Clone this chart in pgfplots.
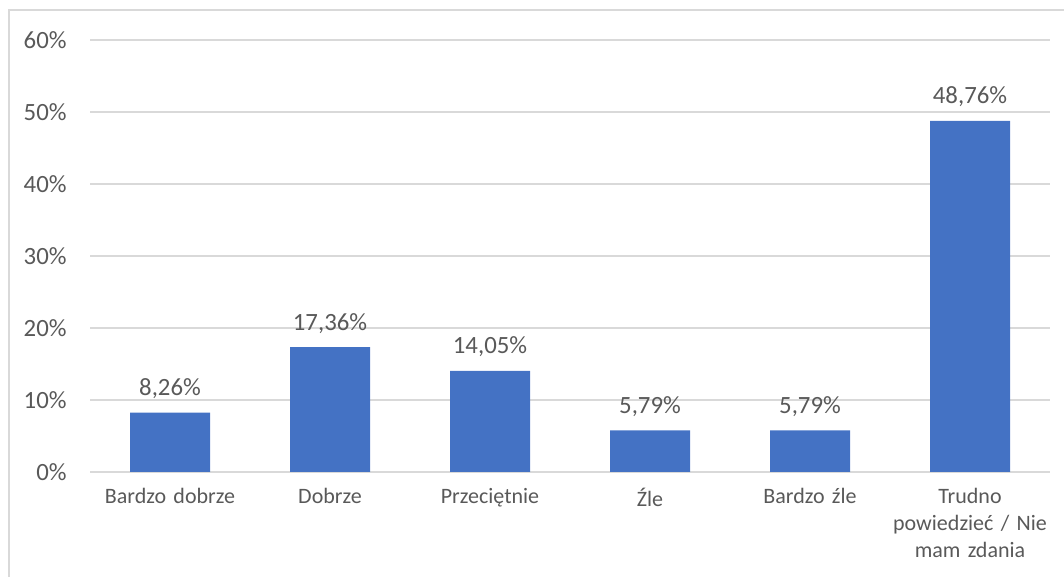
\documentclass[border=0pt]{standalone}
\usepackage{pgfplots}
\pgfplotsset{compat=1.18}
\usepackage{fontspec}
\setmainfont{Carlito}
\definecolor{barblue}{HTML}{4472C4}
\definecolor{txt}{HTML}{595959}
\definecolor{gridc}{HTML}{D9D9D9}
\begin{document}
\begin{tikzpicture}
\path[use as bounding box] (0,0) rectangle (532pt,288.5pt);
\draw[gridc, line width=0.75pt] (4.5pt,0) -- (4.5pt,283.5pt) -- (532pt,283.5pt);
\begin{axis}[
  at={(45pt,52.5pt)}, anchor=south west,
  scale only axis, width=480pt, height=216pt,
  xmin=-0.5, xmax=5.5, ymin=0, ymax=60,
  ytick={0,10,...,60},
  yticklabel={\pgfmathprintnumber{\tick}\%},
  xtick={0,...,5},
  xticklabels={Bardzo dobrze, Dobrze, Przeciętnie, Źle, Bardzo źle, {Trudno\\powiedzieć / Nie\\mam zdania}},
  axis line style={draw=none},
  major tick length=0pt,
  ymajorgrids, grid style={gridc, line width=0.75pt},
  font=\fontsize{11}{13.5}\selectfont\color{txt},
  /pgf/number format/assume math mode=true,
  y tick label style={inner sep=0pt, xshift=-11.5pt, anchor=east, font=\fontsize{12.4}{14}\selectfont\color{txt}},
  x tick label style={inner sep=0pt, yshift=-8pt, anchor=north, align=center, text width=120pt},
  ybar, bar width=40pt,
  nodes near coords={\pgfmathprintnumber[fixed,fixed zerofill,precision=2,use comma]{\pgfplotspointmeta}\%},
  nodes near coords style={anchor=base, inner sep=0pt, yshift=8.5pt, font=\fontsize{12.4}{14}\selectfont\color{txt}},
]
\addplot[fill=barblue, draw=none] coordinates {(0,8.26) (1,17.36) (2,14.05) (3,5.79) (4,5.79) (5,48.76)};
\end{axis}
\end{tikzpicture}
\end{document}
